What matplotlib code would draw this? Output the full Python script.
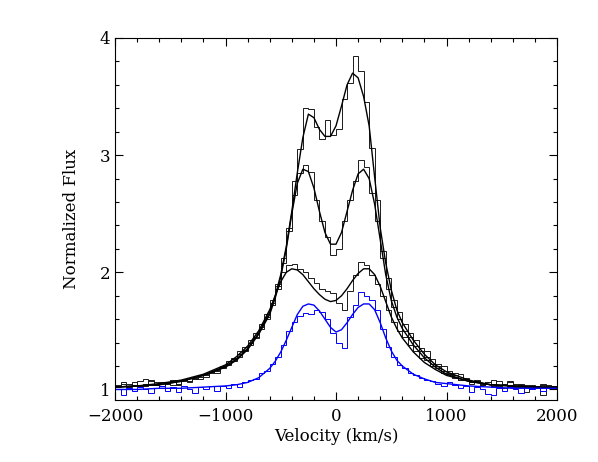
import matplotlib
matplotlib.use('Agg')
import matplotlib.pyplot as plt
from matplotlib.ticker import MultipleLocator
import numpy as np

# binned spectra: 80 bins of 50 km/s from -2000 to 2000
bin_edges = np.arange(-2000, 2001, 50)

flux_1 = [1.04, 1.03, 1.05, 1.04, 1.07, 1.09, 1.04, 1.05, 1.03, 1.06,
          1.08, 1.05, 1.07, 1.06, 1.10, 1.09, 1.12, 1.15, 1.14, 1.19,
          1.22, 1.24, 1.30, 1.33, 1.38, 1.45, 1.53, 1.62, 1.74, 1.90,
          2.12, 2.38, 2.78, 3.05, 3.40, 3.39, 3.24, 3.14, 3.30, 3.17,
          3.22, 3.48, 3.62, 3.85, 3.72, 3.45, 3.06, 2.62, 2.18, 1.95,
          1.76, 1.66, 1.56, 1.48, 1.42, 1.35, 1.33, 1.26, 1.22, 1.20,
          1.16, 1.14, 1.13, 1.10, 1.07, 1.08, 1.05, 1.06, 1.03, 1.07,
          1.04, 1.06, 1.03, 1.05, 1.02, 1.04, 1.03, 1.05, 1.02, 1.03]

flux_2 = [1.02, 1.05, 1.03, 1.06, 1.04, 1.03, 1.07, 1.04, 1.06, 1.05,
          1.04, 1.07, 1.08, 1.07, 1.09, 1.12, 1.11, 1.14, 1.17, 1.18,
          1.21, 1.26, 1.28, 1.34, 1.40, 1.44, 1.52, 1.60, 1.72, 1.86,
          2.08, 2.35, 2.66, 2.85, 2.92, 2.86, 2.62, 2.44, 2.30, 2.15,
          2.20, 2.44, 2.62, 2.78, 2.96, 2.90, 2.68, 2.44, 2.12, 1.86,
          1.70, 1.60, 1.50, 1.45, 1.37, 1.33, 1.28, 1.22, 1.20, 1.16,
          1.14, 1.12, 1.08, 1.09, 1.06, 1.07, 1.04, 1.05, 1.02, 1.04,
          1.01, 1.03, 1.05, 1.02, 1.04, 1.01, 1.03, 0.95, 1.04, 1.02]

flux_3 = [1.03, 1.06, 1.02, 1.04, 1.03, 1.05, 1.08, 1.06, 1.03, 1.05,
          1.06, 1.04, 1.08, 1.07, 1.09, 1.11, 1.13, 1.15, 1.16, 1.20,
          1.24, 1.27, 1.33, 1.36, 1.42, 1.48, 1.56, 1.64, 1.76, 1.88,
          2.00, 2.06, 2.07, 2.03, 2.00, 1.95, 1.91, 1.86, 1.84, 1.82,
          1.74, 1.68, 1.84, 1.98, 2.09, 2.06, 1.98, 1.90, 1.80, 1.68,
          1.58, 1.50, 1.45, 1.38, 1.33, 1.27, 1.25, 1.20, 1.18, 1.14,
          1.13, 1.10, 1.08, 1.09, 1.05, 1.07, 1.04, 1.06, 1.08, 1.03,
          1.05, 1.07, 1.02, 1.04, 0.98, 1.03, 1.01, 1.04, 1.02, 1.03]

flux_blue = [1.00, 0.95, 1.01, 0.99, 1.02, 1.00, 0.97, 1.01, 1.03, 0.99,
             1.02, 0.98, 1.03, 1.00, 0.97, 1.02, 1.00, 1.03, 0.99, 1.03,
             1.01, 1.05, 1.02, 1.06, 1.08, 1.09, 1.14, 1.16, 1.22, 1.28,
             1.38, 1.50, 1.58, 1.63, 1.65, 1.64, 1.68, 1.66, 1.60, 1.48,
             1.40, 1.35, 1.62, 1.72, 1.83, 1.80, 1.76, 1.68, 1.52, 1.36,
             1.28, 1.21, 1.18, 1.14, 1.12, 1.10, 1.08, 1.07, 1.05, 1.03,
             1.06, 1.04, 1.01, 1.03, 0.98, 1.02, 1.00, 0.96, 0.95, 1.01,
             0.99, 1.02, 1.00, 0.97, 1.01, 1.00, 1.02, 0.99, 1.01, 1.00]

# model fits
fit_v = [-2000, -1800, -1600, -1400, -1200, -1000, -900, -800, -700,
         -600, -550, -500, -450, -400, -350, -300, -250, -200, -150, -100, -50,
         0, 50, 100, 150, 200, 250, 300, 350, 400, 450, 500, 550, 600,
         700, 800, 900, 1000, 1200, 1400, 1600, 1800, 2000]

fit_1 = [1.02, 1.03, 1.04, 1.07, 1.12, 1.20, 1.26, 1.35, 1.48,
         1.66, 1.80, 1.98, 2.22, 2.52, 2.85, 3.15, 3.35, 3.32, 3.22, 3.16, 3.16,
         3.25, 3.42, 3.60, 3.70, 3.66, 3.50, 3.25, 2.81, 2.38, 2.08, 1.85, 1.68, 1.57,
         1.42, 1.30, 1.21, 1.15, 1.08, 1.04, 1.03, 1.02, 1.02]

fit_2 = [1.02, 1.03, 1.04, 1.07, 1.12, 1.19, 1.25, 1.34, 1.47,
         1.64, 1.78, 1.96, 2.20, 2.50, 2.76, 2.88, 2.86, 2.72, 2.52, 2.34, 2.24,
         2.24, 2.34, 2.52, 2.70, 2.84, 2.88, 2.80, 2.58, 2.28, 1.98, 1.76, 1.62, 1.52,
         1.38, 1.27, 1.19, 1.13, 1.07, 1.04, 1.03, 1.02, 1.02]

fit_3 = [1.02, 1.03, 1.05, 1.08, 1.13, 1.21, 1.28, 1.37, 1.50,
         1.68, 1.80, 1.92, 2.00, 2.03, 2.02, 1.98, 1.92, 1.86, 1.81, 1.77, 1.75,
         1.76, 1.80, 1.86, 1.93, 1.99, 2.03, 2.03, 1.98, 1.88, 1.75, 1.62, 1.52, 1.44,
         1.32, 1.23, 1.17, 1.12, 1.07, 1.04, 1.03, 1.02, 1.02]

fit_blue = [1.00, 1.00, 1.01, 1.01, 1.02, 1.03, 1.04, 1.06, 1.10,
            1.18, 1.24, 1.32, 1.42, 1.53, 1.64, 1.71, 1.73, 1.72, 1.67, 1.60, 1.53,
            1.49, 1.51, 1.57, 1.64, 1.70, 1.73, 1.73, 1.68, 1.57, 1.44, 1.33, 1.25, 1.20,
            1.13, 1.09, 1.06, 1.05, 1.03, 1.02, 1.01, 1.01, 1.01]

plt.rcParams['font.family'] = 'DejaVu Serif'
fig = plt.figure(figsize=(5.98, 4.62), dpi=100)
ax = fig.add_axes([115 / 598, 62 / 462, 442 / 598, 362 / 462])

for flux in (flux_1, flux_2, flux_3):
    ax.stairs(flux, bin_edges, color='#1a1a1a', linewidth=0.7)
ax.stairs(flux_blue, bin_edges, color='#0000ff', linewidth=0.7)

for fit in (fit_1, fit_2, fit_3):
    ax.plot(fit_v, fit, color='black', linewidth=1.0)
ax.plot(fit_v, fit_blue, color='#0000ff', linewidth=1.0)

ax.set_xlim(-2000, 2000)
ax.set_ylim(0.91, 4.0)
ax.xaxis.set_major_locator(MultipleLocator(1000))
ax.xaxis.set_minor_locator(MultipleLocator(200))
ax.yaxis.set_major_locator(MultipleLocator(1))
ax.yaxis.set_minor_locator(MultipleLocator(0.2))
ax.tick_params(which='both', direction='in', top=True, right=True, labelsize=12, width=0.8)
ax.tick_params(which='major', length=6)
ax.tick_params(which='minor', length=3)
ax.tick_params(axis='x', pad=6)
for s in ax.spines.values():
    s.set_linewidth(0.8)

ax.set_xlabel('Velocity (km/s)', fontsize=12, labelpad=2)
ax.set_ylabel('Normalized Flux', fontsize=12, labelpad=14)

plt.savefig('out.png', dpi=100)
